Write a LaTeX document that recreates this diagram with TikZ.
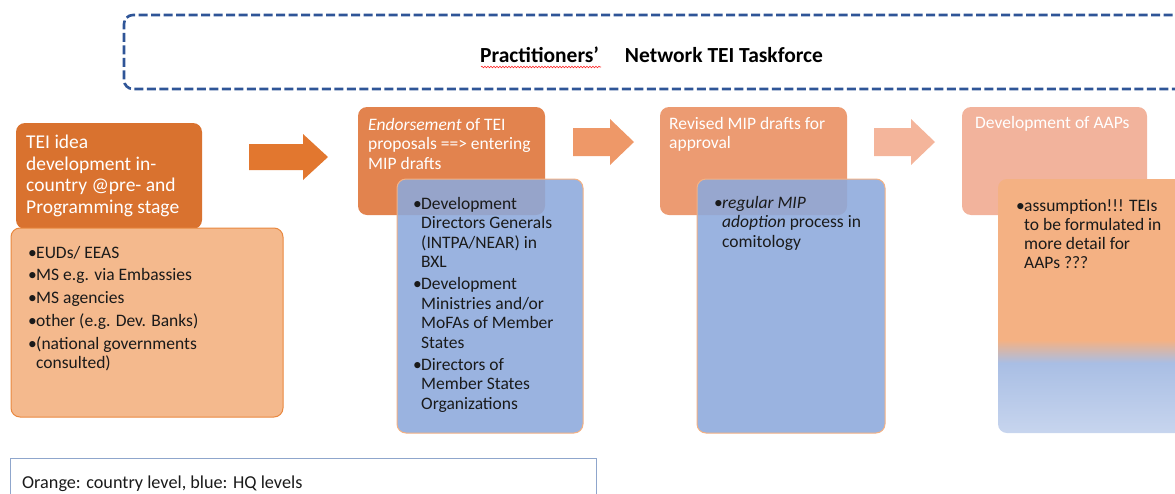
\documentclass[tikz,border=0pt]{standalone}
\usepackage{fontspec}
\setmainfont{Carlito}
\usetikzlibrary{decorations.pathmorphing}
\definecolor{dashblue}{HTML}{2F5597}
\definecolor{hOne}{HTML}{D9722F}
\definecolor{hTwo}{HTML}{E2834E}
\definecolor{hThree}{HTML}{EC9B72}
\definecolor{hFour}{HTML}{F2B39C}
\definecolor{lOne}{HTML}{F4B98D}
\definecolor{lOneLine}{HTML}{E9883F}
\definecolor{blueFill}{HTML}{8CA9DC}
\definecolor{blueLine}{HTML}{F4B183}
\definecolor{arrOne}{HTML}{E2772F}
\definecolor{arrTwo}{HTML}{EE9868}
\definecolor{arrThree}{HTML}{F4B59B}
\definecolor{gOrange}{HTML}{F4B183}
\definecolor{gBlue}{HTML}{A9BEE4}
\definecolor{gBlueLight}{HTML}{C7D5EE}
\definecolor{legLine}{HTML}{8FA6CC}
\definecolor{txt}{HTML}{1A1A1A}
\pgfdeclareverticalshading{aapgrad}{100bp}{color(0bp)=(gBlueLight); color(25bp)=(gBlueLight); color(38.8bp)=(gBlue); color(43.3bp)=(gOrange); color(75bp)=(gOrange); color(100bp)=(gOrange)}
\newcommand\hfs{\fontsize{17.5}{19.5}\selectfont}
\newcommand\bfs{\fontsize{17.5}{19.5}\selectfont}
\newcommand\bl{\makebox[8pt][l]{•}}
\newcommand\nb{\hspace*{8pt}}
\newcommand\sA{\rule{0pt}{15pt}}
\newcommand\sB{\rule{0pt}{16.5pt}}
\tikzset{
  box/.style={rounded corners=9pt, inner sep=0pt, outer sep=0pt, anchor=north west},
  hbox/.style={box, draw=none},
  bbox/.style={box, fill=blueFill, fill opacity=0.88, draw=blueLine, line width=1pt},
  htext/.style={anchor=north west, align=left, inner sep=0pt, text=white, font=\hfs},
  ltext/.style={anchor=north west, align=left, inner sep=0pt, text=txt, font=\bfs},
}
\begin{document}
\begin{tikzpicture}[x=1pt,y=-1pt]
\useasboundingbox (0,0) rectangle (1175,493);
% taskforce frame
\node[box, draw=dashblue, line width=2.6pt, dash pattern=on 9pt off 3.5pt, minimum width=1070, minimum height=74] (tf) at (124,15) {};
\node[anchor=base west, inner sep=0pt, font=\fontsize{21.5}{24}\selectfont\bfseries] (title) at (480,62) {Practitioners’\hspace{26pt}Network TEI Taskforce};
\coordinate (sqa) at (481,67);
\coordinate (sqb) at (601,67);
\draw[red!85!white, line width=0.6pt, decorate, decoration={snake, segment length=3pt, amplitude=0.8pt}] (sqa) -- (sqb);
% column 1
\node[hbox, fill=hOne, minimum width=186, minimum height=106] (h1) at (16,123) {};
\node[box, fill=lOne, draw=lOneLine, line width=1pt, minimum width=272, minimum height=189] (l1) at (11,228) {};
\node[htext, font=\fontsize{19.5}{21.8}\selectfont] (t1) at (26,131.5) {\sB TEI idea\\development in-\\country @pre- and\\Programming stage};
\node[ltext] (b1) at (28,243) {\sA\bl EUDs/ EEAS\\[3.2pt]\bl MS e.g. via Embassies\\[3.2pt]\bl MS agencies\\[3.2pt]\bl other (e.g. Dev. Banks)\\[3.2pt]\bl (national governments\\\nb consulted)};
% column 2
\node[hbox, fill=hTwo, minimum width=187, minimum height=108] (h2) at (358,107) {};
\node[bbox, minimum width=186, minimum height=254] (l2) at (397,179) {};
\node[htext] (t2) at (368,115) {\sA\textit{Endorsement} of TEI\\proposals ==> entering\\MIP drafts};
\node[ltext] (b2) at (413,194) {\sA\bl Development\\\nb Directors Generals\\\nb (INTPA/NEAR) in\\\nb BXL\\[2.5pt]\bl Development\\\nb Ministries and/or\\\nb MoFAs of Member\\\nb States\\[2.5pt]\bl Directors of\\\nb Member States\\\nb Organizations};
% column 3
\node[hbox, fill=hThree, minimum width=187, minimum height=108] (h3) at (660,107) {};
\node[bbox, minimum width=188, minimum height=254] (l3) at (697,179) {};
\node[htext] (t3) at (669,114) {\sA Revised MIP drafts for\\approval};
\node[ltext] (b3) at (714,193) {\sA\bl\textit{regular MIP}\\\nb\textit{adoption} process in\\\nb comitology};
% column 4
\node[hbox, fill=hFour, minimum width=185, minimum height=108] (h4) at (962,107) {};
\node[box, shading=aapgrad, minimum width=200, minimum height=254] (l4) at (998,179) {};
\node[htext] (t4) at (975,113) {\sA Development of AAPs};
\node[ltext, font=\fontsize{17.5}{19}\selectfont] (b4) at (1016,196) {\sA\bl assumption!!! TEIs\\\nb to be formulated in\\\nb more detail for\\\nb AAPs ???};
% block arrows
\fill[arrOne] (249,144) -- (303,144) -- (303,134) -- (328,157) -- (303,180) -- (303,170) -- (249,170) -- cycle;
\fill[arrTwo] (573,128) -- (610,128) -- (610,119) -- (634,142) -- (610,165) -- (610,156) -- (573,156) -- cycle;
\fill[arrThree] (874,128) -- (911,128) -- (911,119) -- (935,142) -- (911,165) -- (911,156) -- (874,156) -- cycle;
% legend
\node[anchor=north west, inner sep=0pt, draw=legLine, line width=1.1pt, minimum width=586, minimum height=50] (leg) at (10,458) {};
\node[anchor=base west, inner sep=0pt, text=txt, font=\fontsize{18.2}{20}\selectfont] (legt) at (22,488) {Orange: country level, blue: HQ levels};
\end{tikzpicture}
\end{document}
